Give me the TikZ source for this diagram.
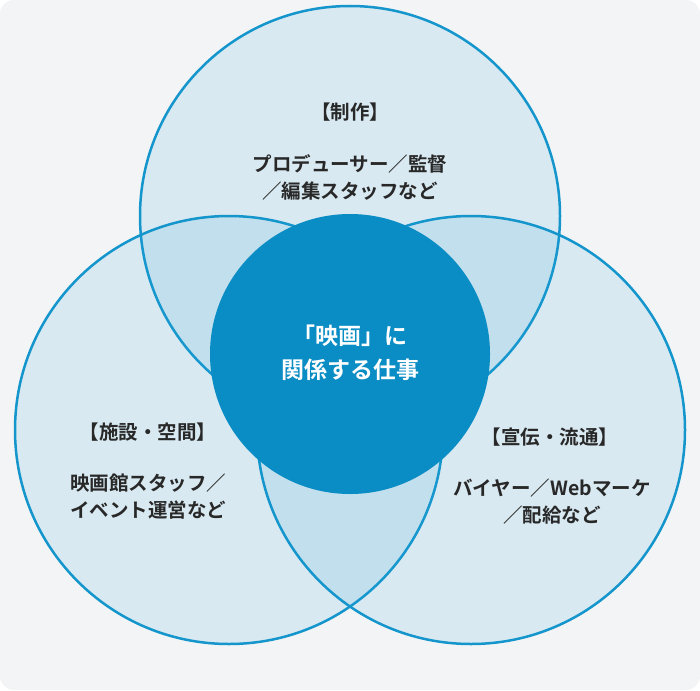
\documentclass[tikz,border=0pt]{standalone}
\usepackage{fontspec}
\setmainfont{Noto Sans CJK JP}[BoldFont={Noto Sans CJK JP Bold}]
\definecolor{bg}{RGB}{243,244,245}
\definecolor{ringc}{RGB}{20,150,205}
\definecolor{ringf}{RGB}{40,160,215}
\definecolor{core}{RGB}{10,140,196}
\definecolor{txt}{RGB}{40,40,40}
\begin{document}
\begin{tikzpicture}[x=1pt,y=-1pt,
  ring/.style={draw=ringc,line width=2.5pt,fill=ringf,fill opacity=0.13},
  lab/.style={font=\bfseries\fontsize{19.5}{27}\selectfont,text=txt,align=center},
  ctr/.style={font=\bfseries\fontsize{23}{34}\selectfont,text=white,align=center}]
\useasboundingbox (0,0) rectangle (700,690);
\fill[bg,rounded corners=14pt] (0,0) rectangle (700,690);
\draw[ring] (350,216) circle[radius=210];
\draw[ring] (229,430) circle[radius=214];
\draw[ring] (471,430) circle[radius=214];
\fill[core] (350,354) circle[radius=140];
\node[ctr] (c) at (350,353) {「映画」に\\関係する仕事};
\node[lab] (t1) at (350,112) {【制作】};
\node[lab] (t2) at (350,177) {プロデューサー／監督\\／編集スタッフなど};
\node[lab] (l1) at (148,432) {【施設・空間】};
\node[lab] (l2) at (148,497) {映画館スタッフ／\\イベント運営など};
\node[lab] (r1) at (550,437) {【宣伝・流通】};
\node[lab] (r2) at (552,502) {バイヤー／Webマーケ\\／配給など};
\end{tikzpicture}
\end{document}
